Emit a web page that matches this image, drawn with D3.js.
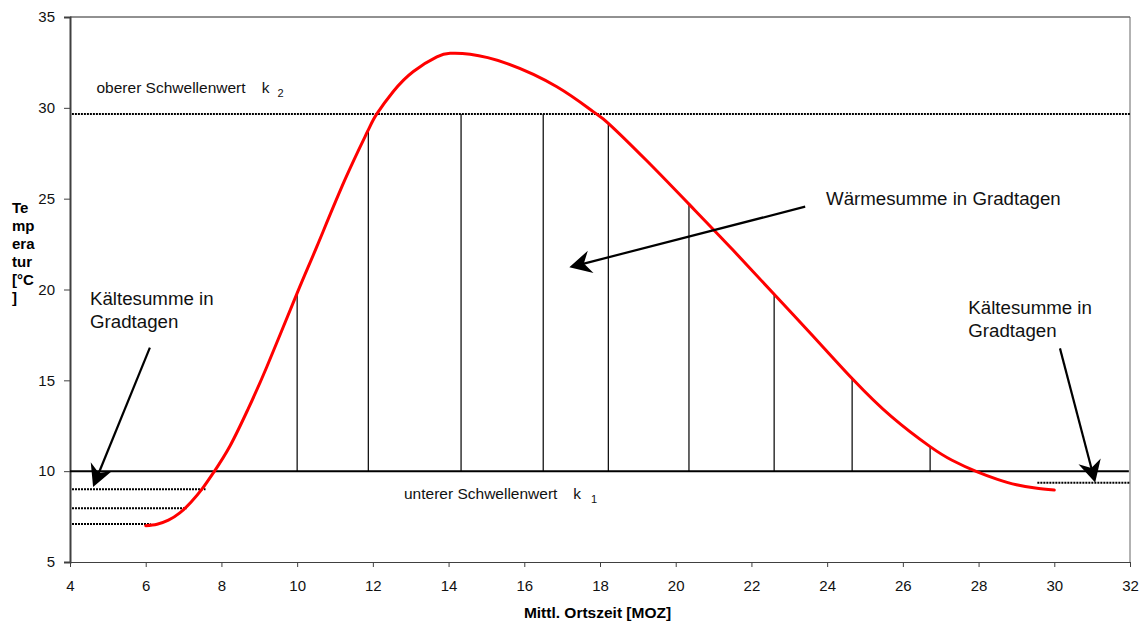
<!DOCTYPE html>
<html>
<head>
<meta charset="utf-8">
<script src="https://cdn.jsdelivr.net/npm/d3@7"></script>
<style>
  body { margin: 0; background: #fff; }
  svg { display: block; font-family: "Liberation Sans", Arial, sans-serif; }
</style>
</head>
<body>
<svg></svg>
<script>
const width = 1141;
const height = 625;

// Tagesgang der Temperatur (MOZ in Stunden, Temperatur in °C)
const hours = [6.0, 6.3, 6.6, 6.9, 7.2, 7.5, 7.8, 8.23, 8.7, 9.2, 10.0, 10.52, 11.26, 11.86, 12.1, 12.54, 13.07,
  13.69, 14.04, 14.57, 15.53, 16.86, 17.82, 18.22, 19.23, 20.35, 21.5, 22.6, 23.6, 24.66, 25.7, 26.72, 27.3,
  27.95, 28.5, 29.0, 29.5, 30.0];
const temps = [7.0, 7.08, 7.3, 7.7, 8.3, 9.05, 9.95, 11.4, 13.4, 15.75, 19.8, 22.36, 26.03, 28.7, 29.65, 30.9, 32.0,
  32.8, 33.0, 32.95, 32.45, 31.16, 29.79, 29.15, 27.1, 24.7, 22.2, 19.74, 17.5, 15.1, 13.0, 11.35, 10.6,
  9.97, 9.55, 9.25, 9.07, 8.96];

// Senkrechte Linien der Wärmesumme
const stemHours = [10.0, 11.88, 14.33, 16.5, 18.22, 20.35, 22.6, 24.66, 26.72];
const stemTops = [19.8, 28.7, 29.66, 29.66, 29.15, 24.7, 19.74, 15.1, 11.35];

// Schwellenwerte
const k1 = 10;
const k2 = 29.66;

// gepunktete Linien der Kältesumme
const coldLevels = [9.0, 7.96, 7.09, 9.36];
const coldFrom = [4, 4, 4, 29.5];
const coldTo = [7.58, 7.08, 6.13, 32];

// Pfeile [von, Spitze] in Datenkoordinaten
const arrowFrom = [[6.11, 16.8], [23.42, 24.56], [30.15, 16.76]];
const arrowTo = [[4.61, 9.13], [17.19, 21.22], [31.08, 9.37]];

const xTicks = [4, 6, 8, 10, 12, 14, 16, 18, 20, 22, 24, 26, 28, 30, 32];
const yTicks = [5, 10, 15, 20, 25, 30, 35];

const svg = d3.select('svg').attr('width', width).attr('height', height);

const x = d3.scaleLinear().domain([4, 32]).range([70, 1130]);
const y = d3.scaleLinear().domain([5, 35]).range([562, 17]);

// Rahmen oben und rechts
svg.append('line').attr('x1', 70).attr('x2', 1130).attr('y1', 17).attr('y2', 17)
  .attr('stroke', '#222').attr('stroke-width', 1);
svg.append('line').attr('x1', 1130).attr('x2', 1130).attr('y1', 17).attr('y2', 562)
  .attr('stroke', '#666').attr('stroke-width', 1);

// Achsen
const xAxis = svg.append('g').attr('transform', 'translate(0,562)')
  .call(d3.axisBottom(x).tickValues(xTicks).tickSize(5).tickPadding(13).tickFormat(d3.format('d')));
const yAxis = svg.append('g').attr('transform', 'translate(70,0)')
  .call(d3.axisLeft(y).tickValues(yTicks).tickSize(6).tickPadding(9).tickFormat(d3.format('d')));
[xAxis, yAxis].forEach(g => {
  g.select('.domain').attr('stroke', '#404040');
  g.selectAll('.tick line').attr('stroke', '#404040');
  g.selectAll('text').attr('font-size', 15).attr('fill', '#111')
    .attr('font-family', '"Liberation Sans", Arial, sans-serif');
});
yAxis.select('.domain').attr('stroke-width', 2);

// Achsentitel
svg.append('text').attr('x', 597.5).attr('y', 618).attr('text-anchor', 'middle')
  .attr('font-size', 15.5).attr('font-weight', 'bold').text('Mittl. Ortszeit [MOZ]');
const yTitle = ['Te', 'mp', 'era', 'tur', '[°C', ']'];
svg.append('g').selectAll('text').data(yTitle).enter().append('text')
  .attr('x', 12).attr('y', (d, i) => 213.3 + i * 18)
  .attr('font-size', 15).attr('font-weight', 'bold').text(d => d);

// Senkrechte Linien
svg.append('g').selectAll('line').data(stemHours).enter().append('line')
  .attr('x1', d => x(d)).attr('x2', d => x(d))
  .attr('y1', y(k1)).attr('y2', (d, i) => y(stemTops[i]))
  .attr('stroke', '#000').attr('stroke-width', 1.2);

// Schwellenwerte
svg.append('line').attr('x1', x(4)).attr('x2', x(31.97)).attr('y1', y(k1)).attr('y2', y(k1))
  .attr('stroke', '#000').attr('stroke-width', 2);
svg.append('line').attr('x1', x(4.05)).attr('x2', x(32)).attr('y1', y(k2)).attr('y2', y(k2))
  .attr('stroke', '#000').attr('stroke-width', 2).attr('stroke-dasharray', '2,1');

svg.append('g').selectAll('line').data(coldLevels).enter().append('line')
  .attr('x1', (d, i) => x(coldFrom[i]) + 2).attr('x2', (d, i) => x(coldTo[i]))
  .attr('y1', d => y(d)).attr('y2', d => y(d))
  .attr('stroke', '#000').attr('stroke-width', 2).attr('stroke-dasharray', '2,1');

// Temperaturkurve
const line = d3.line()
  .x((d, i) => x(hours[i]))
  .y(d => y(d))
  .curve(d3.curveNatural);
svg.append('path').datum(temps).attr('d', line)
  .attr('fill', 'none').attr('stroke', '#ff0000').attr('stroke-width', 3)
  .attr('stroke-linejoin', 'round').attr('stroke-linecap', 'round');

// Pfeile
function arrowHead(p0, p1) {
  const dx = p1[0] - p0[0], dy = p1[1] - p0[1];
  const len = Math.sqrt(dx * dx + dy * dy);
  const ux = dx / len, uy = dy / len;
  const nx = -uy, ny = ux;
  const L = 22, W = 11.5, N = 15;
  const b = [p1[0] - ux * L, p1[1] - uy * L];
  return 'M' + p1[0] + ',' + p1[1] +
    'L' + (b[0] + nx * W) + ',' + (b[1] + ny * W) +
    'L' + (p1[0] - ux * N) + ',' + (p1[1] - uy * N) +
    'L' + (b[0] - nx * W) + ',' + (b[1] - ny * W) + 'Z';
}
arrowFrom.forEach((from, i) => {
  const p0 = [x(from[0]), y(from[1])];
  const p1 = [x(arrowTo[i][0]), y(arrowTo[i][1])];
  const dx = p1[0] - p0[0], dy = p1[1] - p0[1];
  const len = Math.sqrt(dx * dx + dy * dy);
  svg.append('line').attr('x1', p0[0]).attr('y1', p0[1])
    .attr('x2', p1[0] - dx / len * 14).attr('y2', p1[1] - dy / len * 14)
    .attr('stroke', '#000').attr('stroke-width', 2.2);
  svg.append('path').attr('d', arrowHead(p0, p1)).attr('fill', '#000');
});

// Beschriftungen
const upper = svg.append('text').attr('y', 92.7).attr('font-size', 15.5).attr('fill', '#111');
upper.append('tspan').attr('x', 96.5).text('oberer Schwellenwert');
upper.append('tspan').attr('x', 261.7).text('k');
upper.append('tspan').attr('x', 277.5).attr('dy', 4).attr('font-size', 11).text('2');

const lower = svg.append('text').attr('y', 499.3).attr('font-size', 15.5).attr('fill', '#111');
lower.append('tspan').attr('x', 404).text('unterer Schwellenwert');
lower.append('tspan').attr('x', 573.3).text('k');
lower.append('tspan').attr('x', 591).attr('dy', 4).attr('font-size', 11).text('1');

svg.append('text').attr('x', 826).attr('y', 205).attr('font-size', 18.7).attr('fill', '#111')
  .text('Wärmesumme in Gradtagen');

[[90, 305], [968.3, 314]].forEach(p => {
  const t = svg.append('text').attr('font-size', 18.7).attr('fill', '#111');
  t.append('tspan').attr('x', p[0]).attr('y', p[1]).text('Kältesumme in');
  t.append('tspan').attr('x', p[0]).attr('y', p[1] + 22.7).text('Gradtagen');
});
</script>
</body>
</html>
